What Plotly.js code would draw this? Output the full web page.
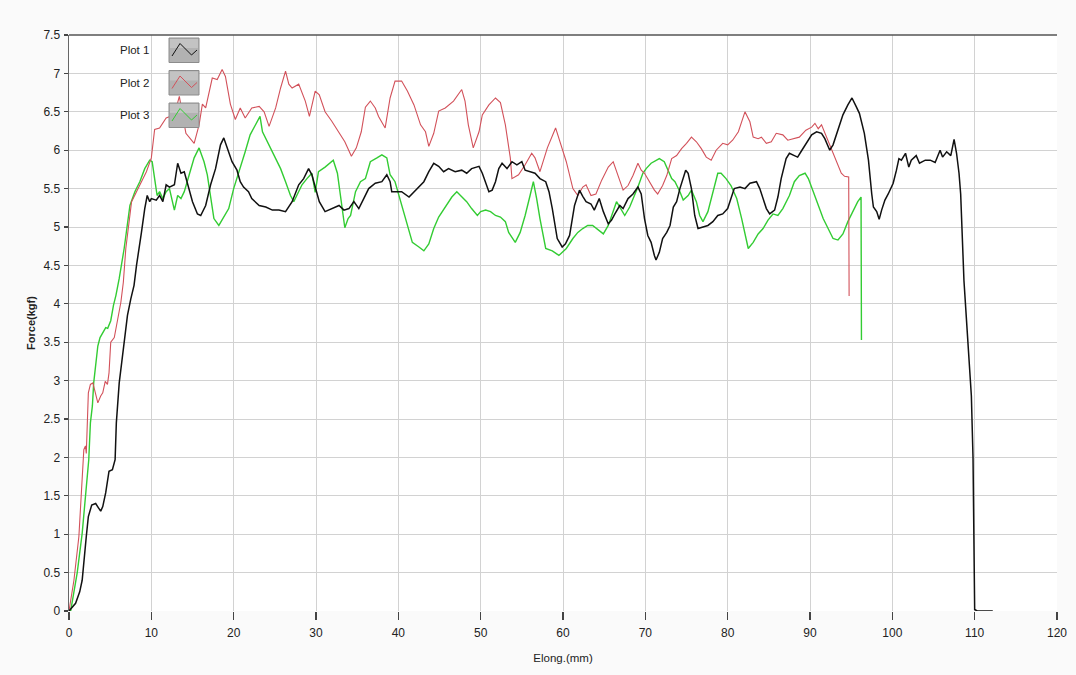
<!DOCTYPE html>
<html>
<head>
<meta charset="utf-8">
<script src="https://cdn.plot.ly/plotly-3.0.1.min.js"></script>
<style>
  html, body { margin: 0; padding: 0; background: #fafafa; }
  #chart { width: 1076px; height: 675px; }
</style>
</head>
<body>
<div id="chart"></div>
<script>
// ---- Data ----
const seriesNames = ["Plot 1", "Plot 2", "Plot 3"];

const plot1X = [0,0.8,1.3,1.6,2.1,2.35,2.76,3.24,3.6,3.85,4.1,4.46,4.86,5.27,5.6,5.75,6.1,6.4,6.7,7.1,7.5,7.9,8.2,8.5,8.8,9.2,9.5,9.8,10,10.6,11,11.4,11.8,12.2,12.8,13.2,13.6,14,14.4,15,15.6,16,16.6,17.2,17.8,18.4,18.8,19.2,19.8,20.4,20.8,21.2,21.8,22.2,23.1,23.9,24.7,25.5,26.3,27.1,27.9,28.5,29.1,29.5,30.0,30.4,31.1,31.9,32.8,33.4,34,34.6,35.2,35.8,36.4,37.2,38,38.6,39,39.2,40.4,41.3,41.9,42.5,43.1,43.7,44.3,44.9,45.5,46.1,46.9,47.7,48.3,48.9,49.8,50.2,50.6,51,51.4,51.8,52.2,52.6,53.2,53.8,54.4,55,55.4,56,56.6,57.2,57.9,58.3,58.7,59.3,59.9,60.3,60.8,61.4,62,62.4,62.8,63.4,63.8,64.4,64.9,65.5,65.9,66.3,66.9,67.3,67.9,68.5,69.1,69.5,69.9,70.3,70.7,71.1,71.3,71.7,72.1,72.6,73,73.4,73.8,74.2,74.6,74.9,75.2,75.6,76,76.4,77,77.6,78.2,78.8,79.4,80,80.4,80.8,81.5,82.1,82.7,83.5,83.9,84.3,84.7,85.1,85.7,86.1,86.5,87.1,87.5,88.1,88.5,88.9,89.6,90.2,90.8,91.4,91.8,92.4,92.8,93.4,94,94.6,95.1,95.6,96,96.6,97.1,97.5,97.7,98.1,98.4,98.7,99.1,99.5,100.1,100.5,100.8,101.1,101.6,102,102.3,102.9,103.3,104,104.6,105.2,105.8,106.1,106.6,107.1,107.5,107.8,108.1,108.3,108.4,108.6,108.7,109,109.3,109.6,109.8,109.95,110.0,110.3,112.2];
const plot1Y = [0,0.1,0.25,0.4,0.97,1.23,1.38,1.4,1.34,1.3,1.36,1.54,1.82,1.84,1.97,2.45,2.97,3.24,3.5,3.85,4.06,4.24,4.5,4.7,4.93,5.24,5.41,5.33,5.37,5.35,5.41,5.33,5.55,5.52,5.55,5.83,5.7,5.72,5.55,5.33,5.17,5.15,5.28,5.55,5.76,6.07,6.16,6.03,5.85,5.74,5.59,5.52,5.46,5.37,5.28,5.26,5.22,5.22,5.2,5.33,5.55,5.63,5.76,5.68,5.5,5.33,5.2,5.24,5.28,5.22,5.24,5.33,5.24,5.37,5.5,5.57,5.59,5.68,5.59,5.46,5.46,5.39,5.46,5.52,5.59,5.72,5.83,5.79,5.72,5.76,5.72,5.74,5.7,5.76,5.79,5.7,5.59,5.46,5.48,5.59,5.76,5.83,5.76,5.85,5.81,5.85,5.74,5.72,5.7,5.63,5.59,5.46,5.24,4.85,4.74,4.78,4.89,5.28,5.48,5.4,5.33,5.3,5.22,5.37,5.2,5.04,5.09,5.17,5.28,5.24,5.37,5.43,5.52,5.43,5.11,4.89,4.8,4.63,4.57,4.67,4.85,4.93,5.02,5.26,5.33,5.5,5.65,5.74,5.7,5.5,5.15,4.98,5,5.02,5.07,5.15,5.17,5.24,5.37,5.5,5.52,5.5,5.57,5.59,5.5,5.37,5.24,5.17,5.22,5.39,5.63,5.89,5.96,5.93,5.91,5.98,6.09,6.2,6.24,6.22,6.15,6,6.07,6.28,6.46,6.59,6.68,6.57,6.48,6.22,5.87,5.43,5.26,5.2,5.1,5.22,5.35,5.43,5.57,5.74,5.89,5.87,5.96,5.78,5.87,5.93,5.83,5.87,5.87,5.84,6,5.91,5.98,5.93,6.14,5.96,5.7,5.43,5.09,4.65,4.3,3.8,3.3,2.8,2.0,0.8,0.02,0,0];

const plot2X = [0,0.3,0.6,1.2,1.8,2.0,2.1,2.35,2.6,2.9,3.2,3.5,3.85,4.1,4.4,4.67,4.86,5.07,5.5,5.9,6.3,6.6,6.9,7.6,8.6,9.4,10,10.4,11,11.8,12.8,13.4,14.2,15.2,15.8,16.2,16.6,17.4,18,18.6,19,19.6,20.2,20.8,21.4,22.2,23.1,23.7,24.3,25.1,25.7,26.3,26.7,27.1,27.9,28.7,29.2,29.9,30.4,31.1,31.9,32.7,33.5,34.3,34.9,35.5,36.0,36.6,37.2,37.6,38.4,39,39.6,40.4,41.1,41.9,42.7,43.3,43.7,44.3,44.9,45.7,46.7,47.7,48.1,48.5,49.1,49.8,50.2,51,51.8,52.4,53,53.6,53.8,54.6,55.4,56.2,56.6,57.2,58.1,59.1,59.7,60.4,61.2,61.8,62.4,62.8,63.4,64,64.7,65.5,66.1,66.7,67.3,67.9,68.5,69.1,69.5,69.9,70.5,71.1,71.5,72.1,72.6,73.2,73.8,74.4,75,75.6,76.2,76.8,77.4,78,78.6,79.4,80,80.6,81.3,82.1,82.7,83.1,83.7,84.1,84.7,85.3,85.9,86.7,87.3,87.9,88.7,89.5,90.2,90.6,91,91.4,92,92.6,93.2,93.8,94.2,94.7,94.75];
const plot2Y = [0,0.2,0.4,0.97,2.1,2.15,2.05,2.84,2.95,2.97,2.84,2.71,2.8,2.84,2.99,2.95,3.1,3.5,3.56,3.8,4.02,4.28,4.72,5.33,5.55,5.72,5.9,6.27,6.29,6.42,6.46,6.7,6.22,6.09,6.33,6.6,6.55,6.94,6.92,7.05,6.96,6.6,6.4,6.55,6.42,6.55,6.57,6.5,6.31,6.55,6.81,7.03,6.86,6.81,6.86,6.64,6.44,6.77,6.72,6.5,6.38,6.24,6.11,5.92,6.03,6.24,6.56,6.64,6.55,6.44,6.29,6.68,6.9,6.9,6.77,6.59,6.33,6.24,6.05,6.22,6.51,6.55,6.64,6.79,6.64,6.33,6.03,6.24,6.46,6.59,6.68,6.62,6.33,5.9,5.63,5.68,5.81,5.96,5.9,5.72,6.03,6.29,6.1,5.85,5.5,5.41,5.52,5.55,5.41,5.43,5.61,5.78,5.85,5.67,5.48,5.54,5.67,5.83,5.74,5.7,5.59,5.48,5.43,5.54,5.67,5.89,5.93,6.02,6.09,6.17,6.11,6.02,5.91,5.87,6,6.09,6.07,6.13,6.24,6.5,6.37,6.17,6.15,6.17,6.09,6.11,6.22,6.2,6.13,6.15,6.17,6.26,6.3,6.35,6.28,6.33,6.17,6.02,5.85,5.7,5.66,5.65,4.1];

const plot3X = [0.2,0.6,1.0,1.6,2.1,2.4,2.6,2.84,3.0,3.24,3.5,3.77,4.25,4.46,4.7,5.07,5.4,5.7,6.1,6.4,6.7,7.4,8,8.6,9.2,9.8,10.1,10.4,10.7,11,11.4,11.8,12.2,12.8,13.2,13.6,14,14.6,15.2,15.8,16.4,16.8,17.2,17.6,18.2,18.8,19.4,20,20.8,21.4,22,22.7,23.2,23.5,24.1,24.5,25.1,25.7,26.3,26.9,27.3,27.7,28.3,28.9,29.5,29.9,30.3,31.1,31.7,32.1,32.6,33,33.5,33.9,34.2,34.8,35.4,36,36.6,37.4,38,38.6,39,39.6,40.2,40.9,41.7,42.5,43.1,43.7,44.3,44.9,45.7,46.5,47.1,47.7,48.3,48.9,49.6,50,50.6,51.2,51.8,52.4,53,53.4,54.2,54.8,55.4,56,56.4,56.8,57.2,57.9,58.7,59.5,60.4,61.2,61.8,62.4,63,63.6,64.3,64.9,65.5,65.9,66.5,66.9,67.5,68.1,68.7,69.1,69.7,70.1,70.7,71.3,71.7,72.3,72.8,73.2,73.6,74.2,74.6,75.2,75.6,76.2,76.6,77,77.6,78.2,78.8,79.2,79.8,80.4,81.1,81.7,82.1,82.5,83.1,83.7,84.3,84.9,85.5,86.1,86.7,87.5,88.1,88.7,89.4,89.8,90.4,91,91.6,92.2,92.8,93.4,94,94.6,95.2,95.8,96.2,96.25];
const plot3Y = [0,0.25,0.5,1.01,1.67,1.97,2.45,2.67,2.97,3.19,3.45,3.56,3.65,3.69,3.68,3.78,3.98,4.11,4.33,4.54,4.72,5.28,5.46,5.59,5.76,5.87,5.85,5.63,5.41,5.46,5.37,5.46,5.5,5.22,5.41,5.37,5.46,5.68,5.9,6.03,5.85,5.68,5.41,5.11,5.02,5.13,5.24,5.5,5.76,5.98,6.2,6.33,6.44,6.24,6.11,6.03,5.9,5.76,5.59,5.41,5.33,5.41,5.55,5.63,5.7,5.45,5.72,5.78,5.83,5.87,5.7,5.37,4.99,5.11,5.15,5.46,5.59,5.63,5.85,5.9,5.94,5.9,5.68,5.59,5.37,5.11,4.8,4.74,4.69,4.78,4.98,5.13,5.26,5.39,5.46,5.39,5.33,5.24,5.15,5.2,5.22,5.2,5.15,5.13,5.07,4.93,4.8,4.93,5.15,5.41,5.59,5.37,5.11,4.72,4.69,4.63,4.72,4.85,4.93,4.98,5.02,5.02,4.96,4.91,5.02,5.15,5.33,5.26,5.15,5.26,5.41,5.52,5.7,5.76,5.83,5.87,5.89,5.85,5.72,5.63,5.59,5.46,5.35,5.41,5.48,5.33,5.15,5.07,5.2,5.46,5.7,5.7,5.63,5.54,5.37,5.11,4.89,4.72,4.8,4.91,4.98,5.09,5.17,5.15,5.24,5.41,5.59,5.67,5.7,5.63,5.46,5.28,5.11,4.98,4.85,4.83,4.91,5.07,5.2,5.33,5.39,3.53];

const xTickVals = [0,10,20,30,40,50,60,70,80,90,100,110,120];
const yTickVals = [0,0.5,1,1.5,2,2.5,3,3.5,4,4.5,5,5.5,6,6.5,7,7.5];
const yTickText = ["0","0.5","1","1.5","2","2.5","3","3.5","4","4.5","5","5.5","6","6.5","7","7.5"];

// ---- Styling ----
const colors = ["#111111", "#d2515a", "#33cc33"];
const widths = [1.5, 1.1, 1.4];
const sans = "'Liberation Sans', Arial, sans-serif";
const W = 1076, H = 675;
const M = {l: 69, r: 19, t: 35, b: 64};
const PW = W - M.l - M.r, PH = H - M.t - M.b;
const px = v => (v - M.l) / PW;      // pixel x -> paper
const py = v => (H - M.b - v) / PH;  // pixel y -> paper

const xs = [plot1X, plot2X, plot3X];
const ys = [plot1Y, plot2Y, plot3Y];
const traces = seriesNames.map((n, i) => ({
  x: xs[i], y: ys[i], name: n, type: "scatter", mode: "lines",
  line: {color: colors[i], width: widths[i]}, showlegend: false
}));
// draw order: green, red, black on top
const data = [traces[2], traces[1], traces[0]];

// custom legend (text left of a grey box with a zig-zag sample)
const shapes = [];
const annotations = [];
const boxTop = [38, 70.5, 103];
seriesNames.forEach((n, i) => {
  const t = boxTop[i];
  shapes.push({type: "rect", xref: "paper", yref: "paper",
    x0: px(169), x1: px(199), y0: py(t + 24.5), y1: py(t),
    fillcolor: "#b2b2b2", line: {color: "#8c8c8c", width: 1}, layer: "above"});
  shapes.push({type: "rect", xref: "paper", yref: "paper",
    x0: px(170), x1: px(198), y0: py(t + 10), y1: py(t + 1),
    fillcolor: "rgba(255,255,255,0.22)", line: {width: 0}, layer: "above"});
  const p = [[172, t + 18], [180, t + 5.5], [191.5, t + 17], [197, t + 12]];
  shapes.push({type: "path", xref: "paper", yref: "paper", layer: "above",
    path: "M" + p.map(q => px(q[0]) + "," + py(q[1])).join(" L"),
    line: {color: colors[i], width: 1}});
  annotations.push({text: n, xref: "paper", yref: "paper", x: px(151), y: py(t + 12.5),
    xanchor: "right", yanchor: "middle", showarrow: false,
    font: {family: sans, size: 11.5, color: "#222"}});
});
// dark top frame line
shapes.push({type: "line", xref: "paper", yref: "paper", x0: 0, x1: 1, y0: 1, y1: 1,
  line: {color: "#555", width: 1.5}, layer: "above"});

const layout = {
  width: W, height: H,
  margin: M,
  paper_bgcolor: "#fafafa",
  plot_bgcolor: "#ffffff",
  font: {family: sans, size: 12, color: "#222"},
  xaxis: {
    range: [0, 120], tickvals: xTickVals, ticks: "outside", ticklen: 8, tickwidth: 1.2,
    tickcolor: "#444", showgrid: true, gridcolor: "#d2d2d2", gridwidth: 1,
    zeroline: false, showline: false, fixedrange: true, ticklabelstandoff: 3,
    tickfont: {family: sans, size: 12, color: "#222"},
    title: {text: "Elong.(mm)", standoff: 14, font: {family: sans, size: 11.5, color: "#222"}}
  },
  yaxis: {
    range: [0, 7.5], tickvals: yTickVals, ticktext: yTickText, ticks: "outside", ticklen: 4,
    tickwidth: 1.2, tickcolor: "#444", showgrid: true, gridcolor: "#d2d2d2", gridwidth: 1,
    zeroline: false, showline: true, linecolor: "#666", linewidth: 1.5, fixedrange: true,
    ticklabelstandoff: 1,
    tickfont: {family: sans, size: 12, color: "#222"},
    title: {text: "<b>Force(kgf)</b>", standoff: 5, font: {family: sans, size: 11, color: "#222"}}
  },
  shapes: shapes,
  annotations: annotations,
  showlegend: false
};

Plotly.newPlot("chart", data, layout, {staticPlot: true, displayModeBar: false});
</script>
</body>
</html>
